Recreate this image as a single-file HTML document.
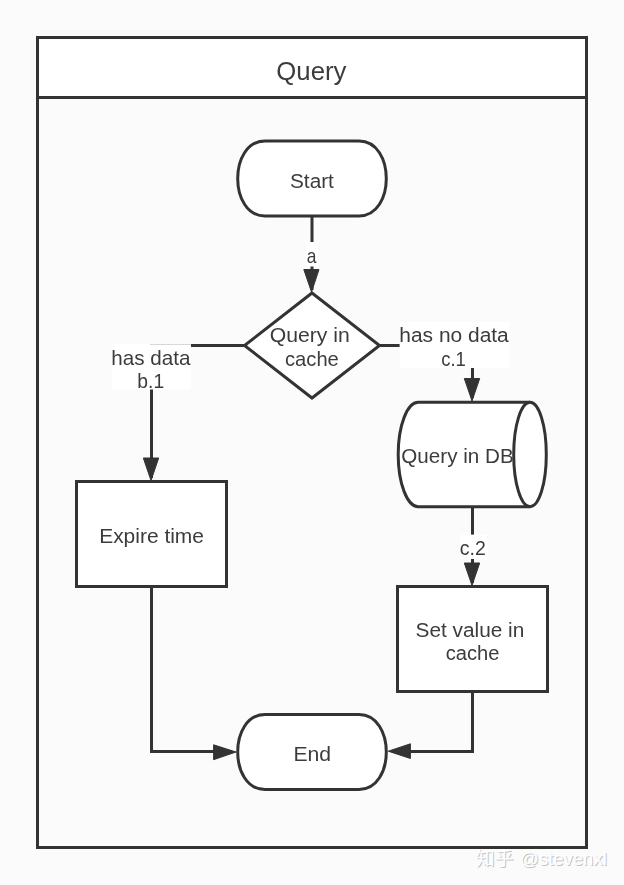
<!DOCTYPE html>
<html lang="en">
<head>
<meta charset="utf-8">
<title>Query</title>
<style>
html,body{margin:0;padding:0;background:#fbfbfb;}
body{width:624px;height:885px;overflow:hidden;}
svg{display:block;}
text{font-family:"Liberation Sans","Noto Sans CJK SC",sans-serif;fill:#3c3c3c;}
.ln{fill:none;stroke:#333;stroke-width:3;stroke-linejoin:miter;}
.sh{fill:#fff;stroke:#333;stroke-width:3;}
.ar{fill:#333;stroke:#333;stroke-width:1;stroke-linejoin:round;}
.lb{fill:#fff;}
</style>
</head>
<body>
<svg width="624" height="885" viewBox="0 0 624 885">
<rect x="0" y="0" width="624" height="885" fill="#fbfbfb"/>
<!-- container -->
<rect x="37.5" y="37.5" width="549" height="60" fill="#fff"/>
<rect class="ln" x="37.5" y="37.5" width="549" height="810"/>
<line class="ln" x1="36" y1="97.5" x2="588" y2="97.5"/>

<!-- connectors -->
<path class="ln" d="M312 216V290"/>
<path class="ln" d="M244.5 345.5H151.5V478"/>
<path class="ln" d="M379.5 345.5H472.5V398"/>
<path class="ln" d="M472.5 507V583"/>
<path class="ln" d="M151.5 586.5V751.5H232"/>
<path class="ln" d="M472.5 691.5V751.5H392"/>

<!-- arrowheads -->
<path class="ar" d="M311.5 292L303.8 269.5H319L311.5 292Z"/>
<path class="ar" d="M151 480.5L143.3 458H158.7L151 480.5Z"/>
<path class="ar" d="M472 401L464.3 378.5H479.7L472 401Z"/>
<path class="ar" d="M472 585.5L464.3 563H479.7L472 585.5Z"/>
<path class="ar" d="M236 752L213.6 744.8V759.7L236 752Z"/>
<path class="ar" d="M388.3 751.2L410.4 743.8V758.5L388.3 751.2Z"/>

<!-- label backgrounds -->
<rect class="lb" x="306" y="242" width="12" height="24.5"/>
<rect class="lb" x="112" y="344.2" width="79" height="45.3"/>
<rect class="lb" x="399.6" y="322" width="110" height="46"/>
<rect class="lb" x="460" y="534.6" width="27" height="24.4"/>

<!-- shapes -->
<path class="sh" d="M265 141H359C395.4 141 395.4 216 359 216H265C228.6 216 228.6 141 265 141Z"/>
<path class="sh" d="M312 293L379.5 345.5L312 398L244.5 345.5Z"/>
<path class="sh" d="M530 402.3H418.2A20 52.2 0 0 0 418.2 506.7H530A16.3 52.2 0 0 0 530 402.3Z"/>
<path class="ln" d="M530 402.3A16.3 52.2 0 0 0 530 506.7"/>
<rect class="sh" x="76.5" y="481.5" width="150" height="105"/>
<rect class="sh" x="397.5" y="586.5" width="150" height="105"/>
<path class="sh" d="M265 714.5H359C395.4 714.5 395.4 789.5 359 789.5H265C228.6 789.5 228.6 714.5 265 714.5Z"/>

<!-- text -->
<g style="opacity:0.999">
<text transform="translate(276.31 80.0) scale(1.0307 1)" font-size="25">Query</text>
<text transform="translate(290.01 187.8) scale(0.9896 1)" font-size="21">Start</text>
<text transform="translate(306.77 262.6) scale(0.8279 1)" font-size="21">a</text>
<text transform="translate(269.79 342.3) scale(1.0091 1)" font-size="21">Query in</text>
<text transform="translate(285.04 366.2) scale(0.9604 1)" font-size="21">cache</text>
<text transform="translate(111.32 364.6) scale(0.9835 1)" font-size="21">has data</text>
<text transform="translate(137.35 387.7) scale(0.9185 1)" font-size="21">b.1</text>
<text transform="translate(399.30 342.1) scale(0.9972 1)" font-size="21">has no data</text>
<text transform="translate(441.22 366.0) scale(0.8808 1)" font-size="21">c.1</text>
<text transform="translate(401.32 463.3) scale(0.9835 1)" font-size="21">Query in DB</text>
<text transform="translate(99.15 542.8) scale(0.9990 1)" font-size="21">Expire time</text>
<text transform="translate(459.82 555.3) scale(0.9288 1)" font-size="21">c.2</text>
<text transform="translate(415.51 636.7) scale(0.9916 1)" font-size="21">Set value in</text>
<text transform="translate(445.74 660.4) scale(0.9594 1)" font-size="21">cache</text>
<text transform="translate(293.43 760.5) scale(1.0102 1)" font-size="21">End</text>
</g>

<!-- watermark -->
<g font-size="18" style="opacity:0.999">
<text transform="translate(477 866) scale(1.04 1)" style="fill:#c4c4c4">知乎</text>
<text transform="translate(521.1 866) scale(1.028 1)" style="fill:#c4c4c4">@stevenxl</text>
<text transform="translate(476 865) scale(1.04 1)" style="fill:#fff">知乎</text>
<text transform="translate(520.1 865) scale(1.028 1)" style="fill:#fff">@stevenxl</text>
</g>
</svg>
</body>
</html>
